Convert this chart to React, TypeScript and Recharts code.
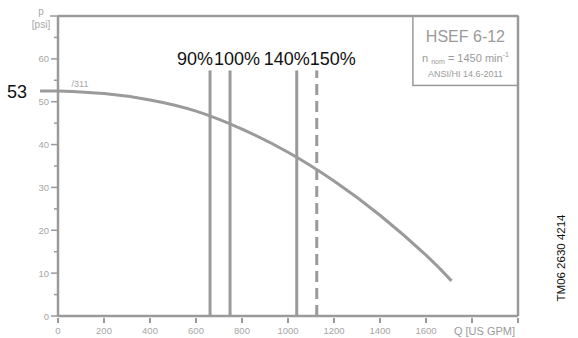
import React from 'react';
import { ComposedChart, Line, XAxis, YAxis, ReferenceLine, ReferenceArea, ReferenceDot, Label } from 'recharts';

const flow = [0, 200, 400, 600, 800, 1000, 1200, 1400, 1600, 1711];
const head = [52.5, 51.9, 50.4, 47.8, 43.6, 38.2, 31.5, 23.5, 14.2, 8.2];
const xTicks = [0, 200, 400, 600, 800, 1000, 1200, 1400, 1600, 1800, 2000];
const yTicks = [0, 5, 10, 15, 20, 25, 30, 35, 40, 45, 50, 55, 60, 65, 70];
const dutyLabels = ['90%', '100%', '140%', '150%'];
const dutyFlows = [661, 748, 1038, 1125];
const shutOffHead = 52.5;

const data = flow.map((q, i) => ({ q, p: head[i] }));

const GRAY = '#9a9a9a';
const TEXT_GRAY = '#a6a6a6';
const FONT = '"Liberation Sans", Arial, sans-serif';

// label nudges so the percent labels sit like in the original
const labelShift = [-15, 7, -10, 16];

function YTick(props: any) {
  const { x, y, payload } = props;
  const v = payload.value;
  if (v === 70) {
    return (
      <g>
        <line x1={x - 8} x2={x} y1={y} y2={y} stroke={GRAY} strokeWidth={1.5} />
        <text x={x - 17} y={y - 1} textAnchor="middle" fontSize={10} fill={TEXT_GRAY} fontFamily={FONT}>p</text>
        <text x={x - 17} y={y + 12} textAnchor="middle" fontSize={10} fill={TEXT_GRAY} fontFamily={FONT}>[psi]</text>
      </g>
    );
  }
  const major = v % 10 === 0;
  return (
    <g>
      <line x1={x - (major ? 7 : 4)} x2={x} y1={y} y2={y} stroke={GRAY} strokeWidth={1.5} />
      {major && (
        <text x={x - 9} y={y + 3.5} textAnchor="end" fontSize={9.5} fill={TEXT_GRAY} fontFamily={FONT}>{v}</text>
      )}
    </g>
  );
}

function XTick(props: any) {
  const { x, y, payload } = props;
  const v = payload.value;
  return (
    <g>
      <line x1={x} x2={x} y1={y} y2={y + 5} stroke={GRAY} strokeWidth={2} />
      {v <= 1600 && (
        <text x={x} y={y + 16} textAnchor="middle" fontSize={9.5} fill={TEXT_GRAY} fontFamily={FONT}>{v}</text>
      )}
    </g>
  );
}

function InfoBox(props: any) {
  const { x, y, width, height } = props;
  const cx = x + width / 2;
  return (
    <g>
      <rect x={x} y={y} width={width} height={height} fill="#fff" stroke={GRAY} strokeWidth={1.5} />
      <text x={cx} y={y + 26} textAnchor="middle" fontSize={16} fill={GRAY} fontFamily={FONT}>HSEF 6-12</text>
      <text x={cx} y={y + 46} textAnchor="middle" fontSize={11} fill={GRAY} fontFamily={FONT}>
        n <tspan fontSize={7} dy={2}>nom</tspan><tspan dy={-2}> = 1450 min</tspan><tspan fontSize={7} dy={-5}>-1</tspan>
      </text>
      <text x={cx} y={y + 61} textAnchor="middle" fontSize={9} fill={GRAY} fontFamily={FONT}>ANSI/HI 14.6-2011</text>
    </g>
  );
}

function DutyLabel({ viewBox, value, shift }: any) {
  return (
    <text x={viewBox.x + shift} y={viewBox.y - 5} textAnchor="middle" fontSize={18} fill="#111" fontFamily={FONT}>
      {value}
    </text>
  );
}

export default function App() {
  return (
    <div style={{ position: 'absolute', left: 0, top: 0, width: 578, height: 338, background: '#fff' }}>
      <ComposedChart width={578} height={338} data={data} margin={{ top: 16, right: 60, bottom: 0, left: 0 }}>
        <XAxis
          type="number"
          dataKey="q"
          domain={[0, 2000]}
          ticks={xTicks}
          interval={0}
          tick={<XTick />}
          tickLine={false}
          tickSize={0}
          height={22}
          axisLine={{ stroke: GRAY, strokeWidth: 2.5 }}
        >
          <Label value="Q [US GPM]" position="insideBottomRight" offset={3} fontSize={11} fill={GRAY} fontFamily={FONT} />
        </XAxis>
        <YAxis
          type="number"
          domain={[0, 70]}
          ticks={yTicks}
          interval={0}
          tick={<YTick />}
          tickLine={false}
          tickSize={0}
          tickMargin={0}
          width={58}
          axisLine={{ stroke: GRAY, strokeWidth: 2.5 }}
        />
        <ReferenceLine y={70} stroke={GRAY} strokeWidth={2.5} />
        <ReferenceLine x={2000} stroke={GRAY} strokeWidth={2.5} />
        <ReferenceArea x1={1543} x2={2000} y1={53.8} y2={70} shape={<InfoBox />} ifOverflow="visible" />
        {dutyFlows.map((q, i) => (
          <ReferenceLine
            key={dutyLabels[i]}
            segment={[{ x: q, y: 0 }, { x: q, y: 57.3 }]}
            stroke={GRAY}
            strokeWidth={3}
            strokeDasharray={i === 3 ? '11 6' : undefined}
            label={<DutyLabel value={dutyLabels[i]} shift={labelShift[i]} />}
          />
        ))}
        <ReferenceLine
          segment={[{ x: -78, y: shutOffHead }, { x: 0, y: shutOffHead }]}
          stroke={GRAY}
          strokeWidth={3}
          ifOverflow="visible"
        />
        <ReferenceDot
          x={0}
          y={shutOffHead}
          r={0}
          fill="none"
          stroke="none"
          label={({ viewBox }: any) => (
            <g>
              <text x={viewBox.x + 22} y={viewBox.y - 4} textAnchor="middle" fontSize={9} fill={TEXT_GRAY} fontFamily={FONT}>/311</text>
              <text x={viewBox.x - 41} y={viewBox.y + 6.5} textAnchor="middle" fontSize={18} fill="#111" fontFamily={FONT}>53</text>
            </g>
          )}
        />
        <Line
          type="natural"
          dataKey="p"
          stroke={GRAY}
          strokeWidth={3}
          dot={false}
          activeDot={false}
          isAnimationActive={false}
        />
      </ComposedChart>
      <div
        style={{
          position: 'absolute',
          left: 561,
          top: 258,
          transform: 'translate(-50%, -50%) rotate(-90deg)',
          whiteSpace: 'nowrap',
          fontFamily: FONT,
          fontSize: 11.5,
          color: '#111',
        }}
      >
        TM06 2630 4214
      </div>
    </div>
  );
}
